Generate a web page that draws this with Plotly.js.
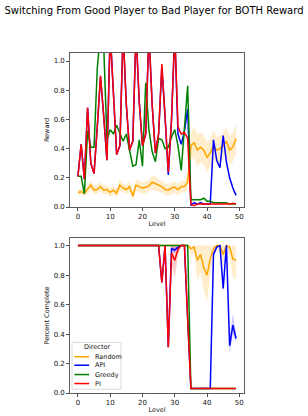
<!DOCTYPE html>
<html>
<head>
<meta charset="utf-8">
<script src="https://cdn.plot.ly/plotly-3.0.1.min.js"></script>
<style>
html,body{margin:0;padding:0;background:#fff;}
#chart{width:308px;height:416px;}
</style>
</head>
<body>
<div id="chart"></div>
<script>
// ---------------- data ----------------
var levels = [];
for (var i = 0; i < 50; i++) levels.push(i);

var seriesNames = ["Random", "API", "Greedy", "PI"];
var seriesColors = ["#FFA500", "#0000FF", "#008000", "#FF0000"];

// Reward (top panel)
var randomReward = [0.10,0.105,0.095,0.12,0.15,0.115,0.12,0.14,0.115,0.12,
                    0.10,0.115,0.095,0.15,0.13,0.12,0.14,0.075,0.15,0.14,
                    0.13,0.135,0.145,0.17,0.16,0.145,0.14,0.12,0.115,0.13,
                    0.135,0.12,0.14,0.14,0.17,0.42,0.44,0.39,0.41,0.39,
                    0.34,0.37,0.42,0.39,0.40,0.42,0.45,0.39,0.41,0.47];
var randomRewardErr = [0.02,0.02,0.02,0.03,0.03,0.03,0.03,0.03,0.03,0.03,
                       0.03,0.03,0.03,0.04,0.03,0.03,0.04,0.03,0.04,0.04,
                       0.04,0.04,0.04,0.05,0.05,0.04,0.04,0.04,0.04,0.04,
                       0.04,0.04,0.04,0.04,0.05,0.09,0.11,0.11,0.10,0.10,
                       0.10,0.10,0.10,0.09,0.09,0.09,0.10,0.10,0.10,0.10];
var apiReward = [0.21,0.43,0.19,0.68,0.30,0.23,0.55,0.89,0.62,0.32,
                 1.20,0.75,0.36,0.42,1.20,0.70,0.39,0.45,1.20,0.72,
                 0.42,0.50,1.20,0.70,0.37,0.50,0.96,0.62,0.22,0.60,
                 1.20,0.50,0.43,0.52,0.67,0.01,0.03,0.02,0.03,0.02,
                 0.02,0.02,0.46,0.32,0.27,0.49,0.31,0.20,0.13,0.08];
var greedyReward = [0.21,0.21,0.09,0.52,0.41,0.41,0.95,1.20,1.10,0.46,
                    0.53,0.50,0.56,0.51,0.45,0.50,0.39,0.28,0.29,0.46,
                    0.28,0.85,0.53,0.38,0.31,0.47,0.46,0.40,0.41,0.48,
                    0.53,0.42,0.25,0.55,0.83,0.05,0.05,0.05,0.05,0.06,
                    0.04,0.04,0.03,0.03,0.03,0.03,0.03,0.02,0.02,0.02];
var piReward = [0.21,0.43,0.19,0.68,0.30,0.23,0.55,0.90,0.62,0.32,
                1.20,0.75,0.36,0.42,1.20,0.70,0.39,0.45,1.20,0.72,
                0.42,0.50,1.20,0.70,0.37,0.50,0.98,0.62,0.24,0.60,
                1.20,0.55,0.50,0.51,0.47,0.02,0.01,0.02,0.02,0.015,
                0.015,0.02,0.015,0.015,0.02,0.015,0.02,0.02,0.025,0.02];

// Percent complete (bottom panel)
var randomComplete = [1,1,1,1,1,1,1,1,1,1,1,1,1,1,1,1,1,1,1,1,
                      1,1,1,1,1,1,1,1,1,1,1,1,1,1,1,0.98,0.99,0.90,0.94,0.85,
                      0.80,0.91,0.98,1.0,1.0,0.94,1.0,0.99,0.91,0.90];
var randomCompleteLow = [1,1,1,1,1,1,1,1,1,1,1,1,1,1,1,1,1,1,1,1,
                         1,1,1,1,1,1,1,1,1,1,1,1,1,1,1,0.93,0.95,0.76,0.82,0.70,
                         0.62,0.80,0.93,0.97,0.96,0.85,0.95,0.94,0.79,0.77];
var apiComplete = [1,1,1,1,1,1,1,1,1,1,1,1,1,1,1,1,1,1,1,1,
                   1,1,1,1,1,1,0.75,1,0.31,0.98,0.97,0.99,1,1,0.5,0.03,0.03,0.03,0.03,0.03,
                   0.03,0.03,0.94,0.99,1.0,0.71,1.0,0.32,0.46,0.37];
var apiCompleteLow = [1,1,1,1,1,1,1,1,1,1,1,1,1,1,1,1,1,1,1,1,
                      1,1,1,1,1,1,0.75,1,0.31,0.96,0.95,0.98,1,1,0.5,0.03,0.03,0.03,0.03,0.03,
                      0.03,0.03,0.92,0.98,1.0,0.68,1.0,0.26,0.40,0.34];
var apiCompleteHigh = [1,1,1,1,1,1,1,1,1,1,1,1,1,1,1,1,1,1,1,1,
                       1,1,1,1,1,1,0.75,1,0.31,1,0.99,1,1,1,0.5,0.03,0.03,0.03,0.03,0.03,
                       0.03,0.03,0.96,1.0,1.0,0.74,1.0,0.38,0.54,0.40];
var greedyComplete = [1,1,1,1,1,1,1,1,1,1,1,1,1,1,1,1,1,1,1,1,
                      1,1,1,1,1,1,1,1,1,1,1,1,1,1,1,0.03,0.03,0.025,0.03,0.03,
                      0.03,0.03,0.03,0.03,0.03,0.03,0.03,0.03,0.03,0.03];
var piComplete = [1,1,1,1,1,1,1,1,1,1,1,1,1,1,1,1,1,1,1,1,
                  1,1,1,1,1,1,0.75,1,0.31,0.95,0.90,0.975,1,1,0.5,0.03,0.03,0.03,0.035,0.03,
                  0.03,0.03,0.03,0.03,0.03,0.03,0.03,0.03,0.03,0.03];
var piCompleteLow = [1,1,1,1,1,1,1,1,1,1,1,1,1,1,1,1,1,1,1,1,
                     1,1,1,1,1,1,0.75,1,0.31,0.88,0.78,0.93,1,1,0.5,0.03,0.03,0.03,0.03,0.03,
                     0.03,0.03,0.03,0.03,0.03,0.03,0.03,0.03,0.03,0.03];

var xTicks = [0,10,20,30,40,50];
var yTicks = [0,0.2,0.4,0.6,0.8,1.0];
var yTickText = ["0.0","0.2","0.4","0.6","0.8","1.0"];

// ---------------- helpers ----------------
function rgba(hex, a) {
  var r = parseInt(hex.substr(1,2),16), g = parseInt(hex.substr(3,2),16), b = parseInt(hex.substr(5,2),16);
  return "rgba(" + r + "," + g + "," + b + "," + a + ")";
}
function band(lo, hi, color, xa, ya) {
  return [
    {x: levels, y: lo, type: "scatter", mode: "lines", line: {width: 0, color: color},
     xaxis: xa, yaxis: ya, showlegend: false, hoverinfo: "skip"},
    {x: levels, y: hi, type: "scatter", mode: "lines", line: {width: 0, color: color},
     fill: "tonexty", fillcolor: rgba(color, 0.2),
     xaxis: xa, yaxis: ya, showlegend: false, hoverinfo: "skip"}
  ];
}
function line(y, color, xa, ya, name) {
  return {x: levels, y: y, type: "scatter", mode: "lines", name: name,
          line: {color: color, width: 1.5}, xaxis: xa, yaxis: ya, showlegend: false};
}
function addArr(a, b, s) { return a.map(function (v, i) { return v + s * b[i]; }); }

var traces = [];
traces = traces.concat(band(addArr(randomReward, randomRewardErr, -1), addArr(randomReward, randomRewardErr, 1), seriesColors[0], "x", "y"));
traces.push(line(randomReward, seriesColors[0], "x", "y", seriesNames[0]));
traces.push(line(apiReward, seriesColors[1], "x", "y", seriesNames[1]));
traces.push(line(greedyReward, seriesColors[2], "x", "y", seriesNames[2]));
traces.push(line(piReward, seriesColors[3], "x", "y", seriesNames[3]));

traces = traces.concat(band(randomCompleteLow, randomComplete.map(function(){return 1;}), seriesColors[0], "x2", "y2"));
traces = traces.concat(band(apiCompleteLow, apiCompleteHigh, seriesColors[1], "x2", "y2"));
traces = traces.concat(band(piCompleteLow, piComplete.map(function(v,i){return Math.min(1, v + (v - piCompleteLow[i]));}), seriesColors[3], "x2", "y2"));
traces.push(line(randomComplete, seriesColors[0], "x2", "y2", seriesNames[0]));
traces.push(line(apiComplete, seriesColors[1], "x2", "y2", seriesNames[1]));
traces.push(line(greedyComplete, seriesColors[2], "x2", "y2", seriesNames[2]));
traces.push(line(piComplete, seriesColors[3], "x2", "y2", seriesNames[3]));

var FONT = "DejaVu Sans, sans-serif";
function xAxis(anchor) {
  return {anchor: anchor, domain: [0, 1], range: [-2.45, 51.45], tickvals: xTicks,
          ticks: "outside", ticklen: 3, tickwidth: 0.8, tickcolor: "#222",
          showline: true, mirror: true, linecolor: "#333", linewidth: 0.8,
          showgrid: false, zeroline: false,
          tickfont: {family: FONT, size: 7, color: "#111"},
          title: {text: "Level", font: {family: FONT, size: 6.5, color: "#111"}, standoff: 1}};
}
function yAxis(anchor, domain, top, label) {
  return {anchor: anchor, domain: domain, range: [0, top], tickvals: yTicks, ticktext: yTickText,
          ticks: "outside", ticklen: 3, tickwidth: 0.8, tickcolor: "#222",
          showline: true, mirror: true, linecolor: "#333", linewidth: 0.8,
          showgrid: false, zeroline: false,
          tickfont: {family: FONT, size: 7, color: "#111"},
          title: {text: label, font: {family: FONT, size: 6.5, color: "#111"}, standoff: 3}};
}

// custom legend (matplotlib-style compact box)
var legendRows = [0.234, 0.179, 0.119, 0.061];
var shapes = [{type: "rect", xref: "x2 domain", yref: "y2 domain", x0: 0.0115, x1: 0.293, y0: 0.024, y1: 0.327,
               line: {color: "#d0d0d0", width: 0.8}, fillcolor: "rgba(255,255,255,0.85)", layer: "above"}];
var annotations = [{xref: "x2 domain", yref: "y2 domain", x: 0.153, y: 0.297, text: "Director", showarrow: false,
                    font: {family: FONT, size: 6.5, color: "#111"}, xanchor: "center", yanchor: "middle"}];
for (var k = 0; k < seriesNames.length; k++) {
  shapes.push({type: "line", xref: "x2 domain", yref: "y2 domain", x0: 0.025, x1: 0.11,
               y0: legendRows[k], y1: legendRows[k], line: {color: seriesColors[k], width: 1.5}, layer: "above"});
  annotations.push({xref: "x2 domain", yref: "y2 domain", x: 0.13, y: legendRows[k], text: seriesNames[k],
                    showarrow: false, xanchor: "left", yanchor: "middle",
                    font: {family: FONT, size: 6.5, color: "#111"}});
}

var layout = {
  width: 308, height: 416,
  margin: {l: 70, r: 64, t: 53, b: 23},
  paper_bgcolor: "#fff", plot_bgcolor: "#fff",
  showlegend: false,
  title: {text: "Switching From Good Player to Bad Player for BOTH Reward",
          font: {family: FONT, size: 10, color: "#000"},
          x: 0.5, xanchor: "center", y: 1 - 10 / 416, yanchor: "middle", yref: "container"},
  xaxis: xAxis("y"),
  yaxis: yAxis("x", [0.547, 1], 1.055, "Reward"),
  xaxis2: xAxis("y2"),
  yaxis2: yAxis("x2", [0, 0.456], 1.052, "Percent Complete"),
  shapes: shapes,
  annotations: annotations
};

Plotly.newPlot("chart", traces, layout, {staticPlot: true, displayModeBar: false});
</script>
</body>
</html>
